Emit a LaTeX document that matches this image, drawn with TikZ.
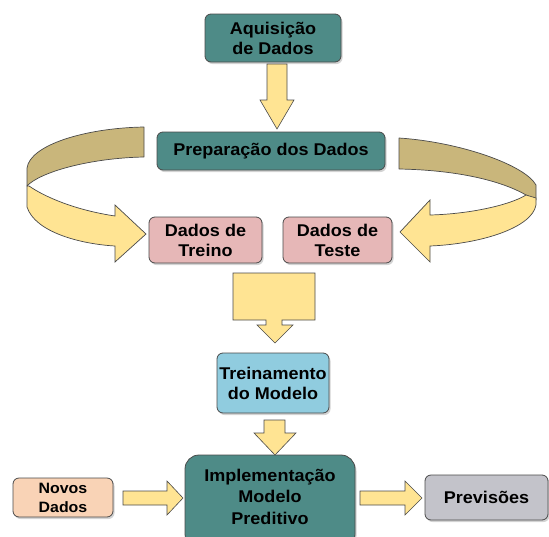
\documentclass[tikz,border=0pt]{standalone}
\usepackage{fontspec}
\setmainfont{Liberation Sans}[FakeStretch=1.06]
\usetikzlibrary{shadows}
\definecolor{teal1}{HTML}{4E8B87}
\definecolor{pink1}{HTML}{E6B7B7}
\definecolor{blue1}{HTML}{90CCDF}
\definecolor{peach1}{HTML}{F9D3B6}
\definecolor{grey1}{HTML}{C3C3CA}
\definecolor{yel}{HTML}{FFE493}
\definecolor{tan1}{HTML}{C9B67B}
\definecolor{edge}{HTML}{4A4A4A}
\begin{document}
\begin{tikzpicture}[x=1pt,y=-1pt,
  box/.style={draw=edge, line width=0.8pt, rounded corners=6pt,
    font=\bfseries\fontsize{17}{20}\selectfont, align=center, inner sep=0pt,
    drop shadow={opacity=0.35, shadow xshift=1.5pt, shadow yshift=-2pt}},
  txt/.style={font=\bfseries\fontsize{17}{21.5}\selectfont, align=center, inner sep=0pt},
  blk/.style={fill=yel, draw=edge, line width=0.6pt, line join=miter},
  ribdark/.style={fill=tan1, draw=edge, line width=0.7pt, line join=round},
  riblight/.style={fill=yel, draw=edge, line width=0.7pt, line join=miter}]
\useasboundingbox (0,0) rectangle (549,536);
\clip (0,0) rectangle (549,536);

% nodes
\node[box, fill=teal1, minimum width=136pt, minimum height=48pt] (aq) at (273,38) {Aquisição\\de Dados};
\node[box, fill=teal1, minimum width=228pt, minimum height=38pt] (prep) at (271,151) {Preparação dos Dados};
\node[box, fill=pink1, minimum width=113pt, minimum height=46pt] (treino) at (205.5,240) {Dados de\\Treino};
\node[box, fill=pink1, minimum width=109pt, minimum height=46pt] (teste) at (337.5,240) {Dados de\\Teste};
\node[box, fill=blue1, minimum width=112pt, minimum height=60pt] (trein) at (273,383) {Treinamento\\do Modelo};
\node[box, fill=teal1, minimum width=170pt, minimum height=93pt, rounded corners=14pt] (impl) at (270,501.5) {};
\node[txt, anchor=base] (impltxt) at (270,524) {Implementação\\Modelo\\Preditivo};
\node[box, fill=peach1, minimum width=100pt, minimum height=39pt, font=\bfseries\fontsize{15}{19}\selectfont] (novos) at (63,497.5) {Novos\\Dados};
\node[box, fill=grey1, minimum width=123pt, minimum height=45pt] (prev) at (486.5,497.5) {Previsões};

% block arrows
\draw[blk] (267,64) -- (287,64) -- (287,100) -- (294,100) -- (277,129) -- (260,100) -- (267,100) -- cycle;
\draw[blk] (233,273) -- (315,273) -- (315,320) -- (282,320) -- (282,325) -- (293,325) -- (275,343)
  -- (257,325) -- (266,325) -- (266,320) -- (233,320) -- cycle;
\draw[blk] (264,420) -- (285,420) -- (285,433) -- (296,433) -- (275,455) -- (254,433) -- (264,433) -- cycle;
\draw[blk] (123,491) -- (167,491) -- (167,481) -- (183,498) -- (167,515) -- (167,505) -- (123,505) -- cycle;
\draw[blk] (360,491) -- (405,491) -- (405,481) -- (422,498) -- (405,515) -- (405,505) -- (360,505) -- cycle;

% left ribbon
\draw[ribdark] (144,127) .. controls (85,128) and (30,145) .. (27,168) -- (27,186)
  .. controls (40,172) and (90,158) .. (144,157) -- cycle;
\draw[riblight] (27,186) -- (27,207) .. controls (35,232) and (80,244) .. (115,246) -- (115,262)
  -- (146,234) -- (115,205) -- (115,216) .. controls (75,210) and (45,197) .. (29,186) -- cycle;

% right ribbon
\draw[ribdark] (399,138) .. controls (460,142) and (525,165) .. (536,185) -- (536,200)
  -- (526,195) .. controls (500,180) and (455,170) .. (399,169) -- cycle;
\draw[riblight] (536,198) -- (536,205) .. controls (532,228) and (480,244) .. (430,246) -- (430,262)
  -- (400,232) -- (430,200) -- (430,215) .. controls (470,214) and (510,205) .. (526,195) -- cycle;
\end{tikzpicture}
\end{document}
